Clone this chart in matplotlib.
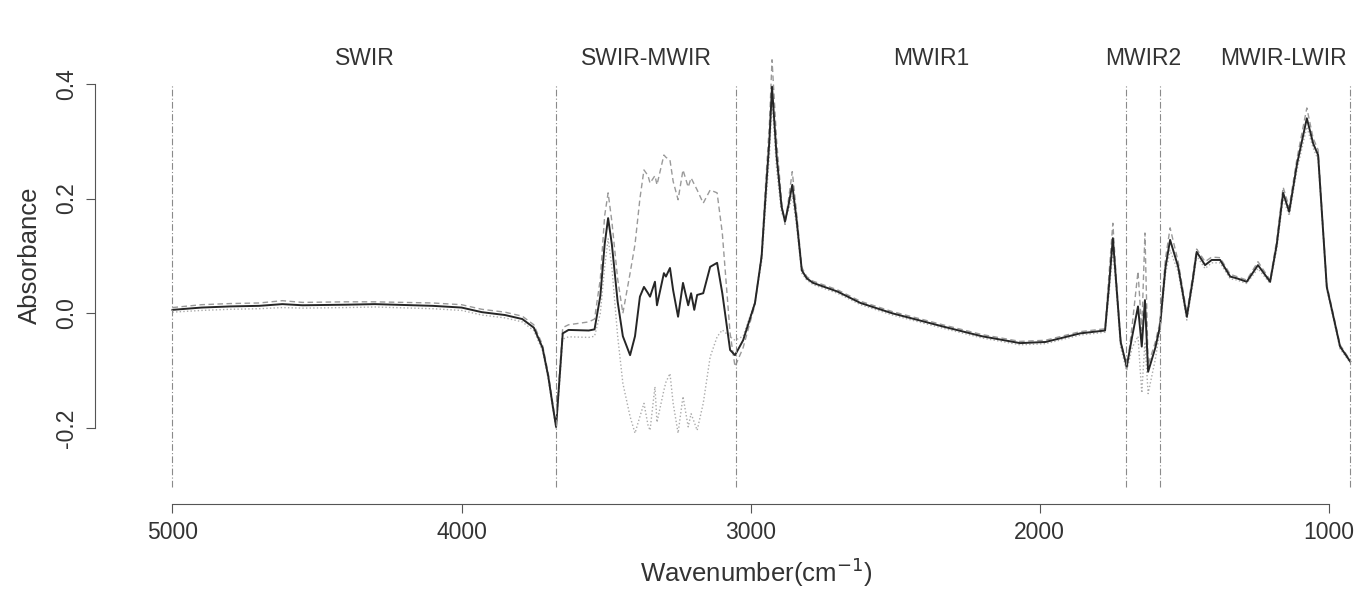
import numpy as np
import matplotlib
matplotlib.use("Agg")
import matplotlib.pyplot as plt

plt.rcParams.update({"font.family": "Liberation Sans", "font.size": 16.5})

# wavenumber grid (cm-1) with mean / upper (dashed) / lower (dotted) absorbance
WN = [5000, 4900, 4800, 4700, 4620, 4550, 4400, 4300, 4100, 4000, 3930, 3850,
      3790, 3750, 3720, 3700, 3685, 3673, 3662, 3650, 3630, 3560, 3540, 3520,
      3505, 3493, 3480, 3460, 3442, 3417, 3400, 3383, 3369, 3355, 3348, 3331,
      3324, 3300, 3293, 3279, 3268, 3251, 3234, 3216, 3206, 3195, 3185, 3164,
      3140, 3116, 3098, 3071, 3054, 3026, 2985, 2962, 2947, 2935, 2926, 2910,
      2893, 2881, 2870, 2856, 2841, 2823, 2806, 2784, 2700, 2620, 2510, 2335,
      2200, 2068, 1980, 1900, 1860, 1791, 1774, 1760, 1747, 1735, 1720, 1699,
      1680, 1660, 1647, 1636, 1625, 1600, 1584, 1565, 1549, 1521, 1491, 1470,
      1457, 1428, 1405, 1376, 1341, 1318, 1284, 1245, 1203, 1180, 1158, 1137,
      1110, 1076, 1054, 1037, 1007, 961, 926]
MEAN = [0.006, 0.010, 0.012, 0.013, 0.016, 0.014, 0.015, 0.016, 0.013, 0.010,
        0.002, -0.003, -0.010, -0.025, -0.060, -0.110, -0.160, -0.198, -0.120,
        -0.035, -0.029, -0.030, -0.028, 0.030, 0.120, 0.166, 0.120, 0.020,
        -0.040, -0.073, -0.040, 0.029, 0.046, 0.035, 0.029, 0.055, 0.014,
        0.070, 0.064, 0.079, 0.040, -0.006, 0.053, 0.014, 0.035, 0.006, 0.032,
        0.035, 0.081, 0.088, 0.035, -0.064, -0.073, -0.047, 0.018, 0.099,
        0.215, 0.302, 0.395, 0.273, 0.186, 0.160, 0.186, 0.224, 0.163, 0.075,
        0.061, 0.053, 0.038, 0.018, 0.000, -0.023, -0.040, -0.052, -0.050,
        -0.040, -0.035, -0.031, -0.030, 0.050, 0.131, 0.050, -0.050, -0.093,
        -0.040, 0.012, -0.058, 0.023, -0.102, -0.060, -0.023, 0.080, 0.128,
        0.081, -0.006, 0.060, 0.107, 0.084, 0.093, 0.093, 0.064, 0.061, 0.055,
        0.084, 0.055, 0.120, 0.210, 0.177, 0.260, 0.340, 0.296, 0.276, 0.046,
        -0.058, -0.084]
UPPER = [0.010, 0.015, 0.017, 0.018, 0.022, 0.019, 0.020, 0.020, 0.018, 0.015,
         0.007, 0.002, -0.005, -0.020, -0.055, -0.105, -0.155, -0.195, -0.110,
         -0.025, -0.020, -0.015, -0.010, 0.060, 0.170, 0.210, 0.160, 0.060,
         0.000, 0.070, 0.120, 0.200, 0.250, 0.240, 0.227, 0.240, 0.224, 0.276,
         0.272, 0.267, 0.230, 0.198, 0.250, 0.220, 0.236, 0.225, 0.215, 0.192,
         0.215, 0.210, 0.140, -0.035, -0.093, -0.060, 0.015, 0.105, 0.235,
         0.330, 0.442, 0.300, 0.195, 0.155, 0.195, 0.247, 0.175, 0.080, 0.064,
         0.056, 0.041, 0.021, 0.003, -0.020, -0.037, -0.049, -0.047, -0.037,
         -0.032, -0.028, -0.027, 0.070, 0.157, 0.060, -0.045, -0.100, -0.020,
         0.073, -0.030, 0.140, -0.090, -0.050, -0.015, 0.095, 0.149, 0.090,
         0.000, 0.068, 0.112, 0.090, 0.098, 0.097, 0.068, 0.064, 0.058, 0.090,
         0.058, 0.128, 0.220, 0.185, 0.270, 0.358, 0.305, 0.285, 0.050, -0.055,
         -0.082]
LOWER = [0.002, 0.005, 0.007, 0.008, 0.010, 0.009, 0.010, 0.011, 0.008, 0.005,
         -0.003, -0.008, -0.015, -0.030, -0.065, -0.115, -0.165, -0.200, -0.130,
         -0.045, -0.041, -0.042, -0.040, 0.000, 0.080, 0.130, 0.080, -0.040,
         -0.122, -0.180, -0.209, -0.180, -0.157, -0.195, -0.204, -0.128, -0.190,
         -0.134, -0.120, -0.105, -0.157, -0.209, -0.145, -0.198, -0.175, -0.190,
         -0.204, -0.157, -0.076, -0.041, -0.029, -0.041, -0.047, -0.040, 0.020,
         0.090, 0.195, 0.275, 0.370, 0.250, 0.175, 0.165, 0.178, 0.205, 0.152,
         0.070, 0.058, 0.050, 0.035, 0.015, -0.003, -0.026, -0.043, -0.055,
         -0.053, -0.043, -0.038, -0.034, -0.033, 0.035, 0.110, 0.040, -0.060,
         -0.100, -0.060, -0.040, -0.139, -0.050, -0.140, -0.080, -0.030, 0.068,
         0.110, 0.072, -0.012, 0.052, 0.100, 0.078, 0.088, 0.088, 0.060, 0.058,
         0.052, 0.078, 0.052, 0.112, 0.200, 0.170, 0.250, 0.325, 0.288, 0.268,
         0.042, -0.062, -0.086]

# region boundaries and labels
BOUNDS = [5000, 3673, 3050, 1700, 1583, 926]
REGIONS = ["SWIR", "SWIR-MWIR", "MWIR1", "MWIR2", "MWIR-LWIR"]
LABEL_X = [4336, 3361, 2375, 1641, 1158]

fig = plt.figure(figsize=(13.71, 5.89), dpi=100)
ax = fig.add_axes([95 / 1371, 85 / 589, 1 - 95 / 1371, 466 / 589])

ax.plot(WN, UPPER, color="#9a9a9a", lw=1.0, ls=(0, (4, 2.5)), clip_on=False)
ax.plot(WN, LOWER, color="#ababab", lw=1.0, ls=(0, (1, 1.6)), clip_on=False)
ax.plot(WN, MEAN, color="#262626", lw=1.4, clip_on=False)
ax.vlines(BOUNDS, -0.303, 0.40, colors="#8a8a8a", lw=0.8, ls=(0, (6, 2, 1, 2)))
for xl, lab in zip(LABEL_X, REGIONS):
    ax.text(xl, 0.445, lab, ha="center", va="center", color="#333333")

ax.set_xlim(5268, 854)
ax.set_ylim(-0.3325, 0.480)
for s in ("top", "right"):
    ax.spines[s].set_visible(False)
ax.spines["bottom"].set_bounds(1000, 5000)
ax.spines["left"].set_bounds(-0.2, 0.4)
for s in ("bottom", "left"):
    ax.spines[s].set_color("#555555")
ax.set_xticks([5000, 4000, 3000, 2000, 1000])
ax.set_yticks([-0.2, 0.0, 0.2, 0.4])
ax.set_yticklabels(["-0.2", "0.0", "0.2", "0.4"], rotation=90, va="center")
ax.tick_params(length=6.5, color="#555555", labelcolor="#333333", pad=6)
ax.set_xlabel("Wavenumber(cm$^{-1}$)", color="#333333", fontsize=18.5, va="center")
ax.set_ylabel("Absorbance", color="#333333", fontsize=18.5, va="center")
ax.xaxis.set_label_coords(0.518, -0.146)
ax.yaxis.set_label_coords(-0.051, 0.534)

fig.savefig("out.png", dpi=100)
